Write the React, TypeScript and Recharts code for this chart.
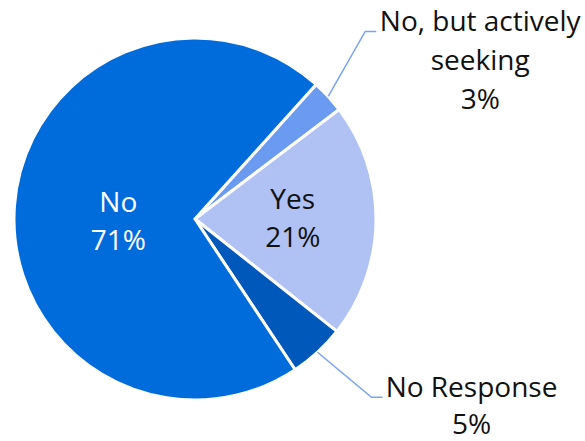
import React from "react";
import { PieChart, Pie, Cell } from "recharts";

const categories = ["No, but actively seeking", "Yes", "No Response", "No"];
const values = [3, 21, 5, 71];
const percentLabels = ["3%", "21%", "5%", "71%"];
const colors = ["#6B9BF0", "#B0C1F4", "#0058BA", "#006CDC"];

const data = categories.map((name, i) => ({ name, value: values[i], pct: percentLabels[i], color: colors[i] }));

const RAD = Math.PI / 180;
const FONT = "'Open Sans', 'Noto Sans', sans-serif";
const FS = 28;

const renderLabel = (props: any) => {
  const { cx, cy, midAngle, outerRadius, index } = props;
  const d = data[index];
  const cos = Math.cos(-midAngle * RAD);
  const sin = Math.sin(-midAngle * RAD);
  if (d.name === "No" || d.name === "Yes") {
    const f = d.name === "No" ? 0.425 : 0.54;
    const x = cx + outerRadius * f * cos;
    const y = cy + outerRadius * f * sin;
    const first = d.name === "No" ? -1 : -11;
    return (
      <text x={x} y={y} textAnchor="middle" fontFamily={FONT} fontSize={FS} fill={d.name === "No" ? "#ffffff" : "#111111"}>
        <tspan x={x} dy={first}>{d.name}</tspan>
        <tspan x={x} dy={38}>{d.pct}</tspan>
      </text>
    );
  }
  const sx = cx + outerRadius * cos;
  const sy = cy + outerRadius * sin;
  if (d.name === "No Response") {
    const mx = sx + 54;
    const my = sy + 45;
    const ex = mx + 11;
    const tx = ex + 89;
    return (
      <g>
        <polyline points={`${sx},${sy} ${mx},${my} ${ex},${my}`} fill="none" stroke="#7AA3F4" strokeWidth={1.5} />
        <text x={tx} y={my} textAnchor="middle" fontFamily={FONT} fontSize={FS} fill="#111111">
          <tspan x={tx} dy={0}>No Response</tspan>
          <tspan x={tx} dy={37}>{d.pct}</tspan>
        </text>
      </g>
    );
  }
  const mx = sx + 37;
  const my = sy - 65;
  const ex = mx + 11;
  const tx = ex + 104;
  return (
    <g>
      <polyline points={`${sx},${sy} ${mx},${my} ${ex},${my}`} fill="none" stroke="#7AA3F4" strokeWidth={1.5} />
      <text x={tx} y={my} textAnchor="middle" fontFamily={FONT} fontSize={FS} fill="#111111">
        <tspan x={tx} dy={0}>No, but actively</tspan>
        <tspan x={tx} dy={39}>seeking</tspan>
        <tspan x={tx} dy={39}>{d.pct}</tspan>
      </text>
    </g>
  );
};

export default function App() {
  return (
    <div style={{ position: "absolute", left: 0, top: 0, width: 585, height: 441, background: "#ffffff" }}>
      <PieChart width={585} height={441} margin={{ top: 0, right: 0, bottom: 0, left: 0 }}>
        <Pie
          data={data}
          dataKey="value"
          nameKey="name"
          cx={195}
          cy={219}
          outerRadius={181}
          startAngle={48}
          endAngle={-312}
          stroke="#ffffff"
          strokeWidth={3}
          label={renderLabel}
          labelLine={false}
          isAnimationActive={false}
        >
          {data.map((d, i) => (
            <Cell key={i} fill={d.color} />
          ))}
        </Pie>
      </PieChart>
    </div>
  );
}
